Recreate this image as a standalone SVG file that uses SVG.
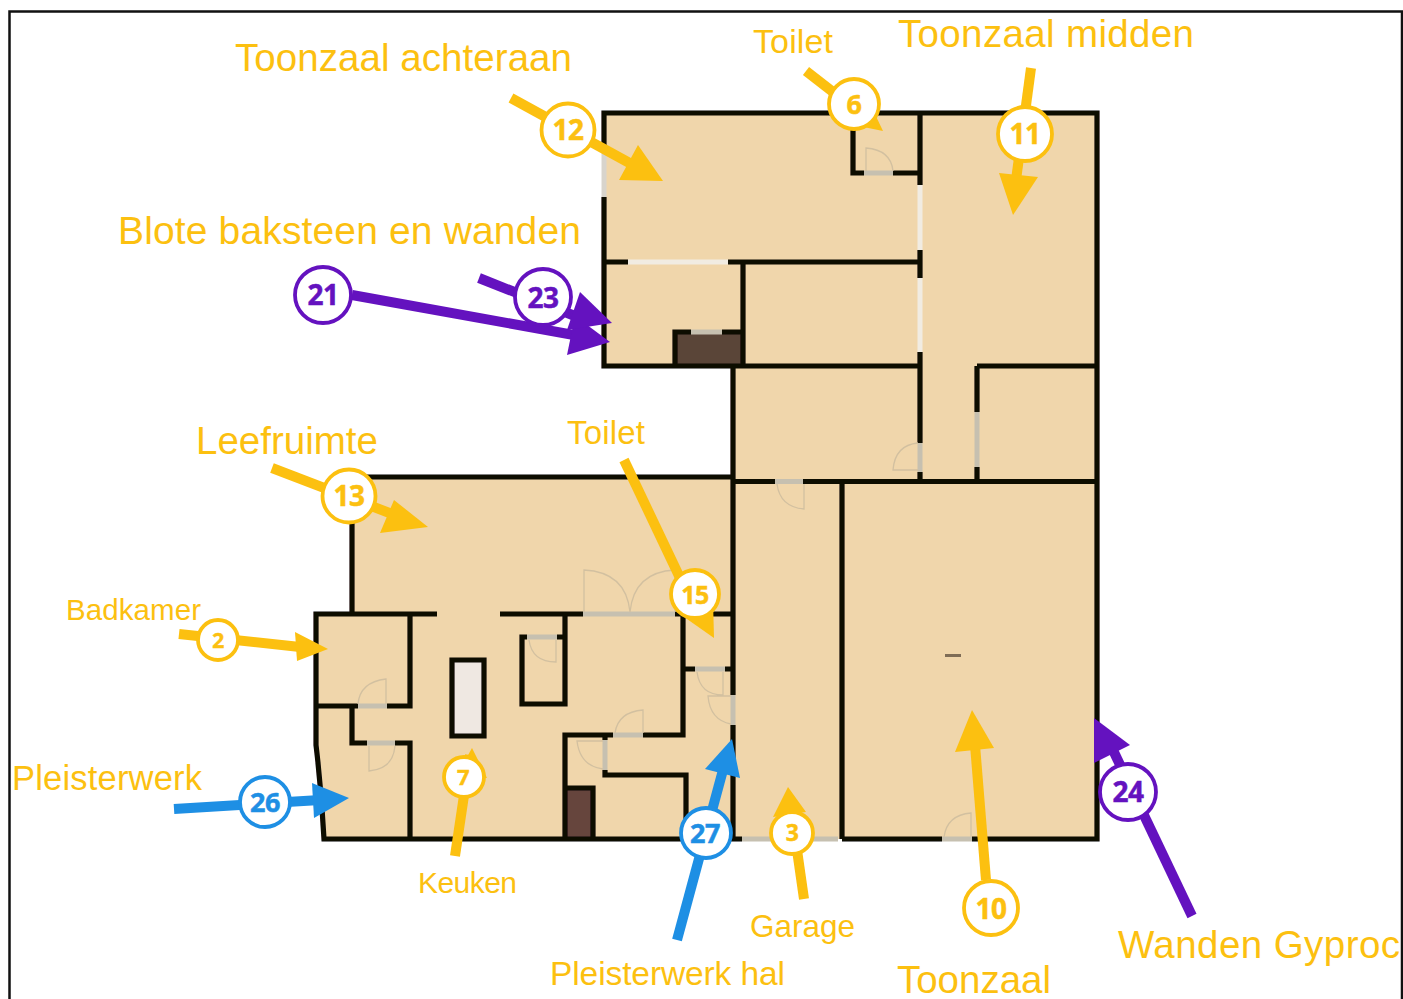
<svg xmlns="http://www.w3.org/2000/svg" width="1403" height="999" viewBox="0 0 1403 999">
<defs><filter id="soft" x="-2%" y="-2%" width="104%" height="104%"><feGaussianBlur stdDeviation="0.45"/></filter></defs>
<style>
.wall{fill:none;stroke:#0c0805;stroke-width:5.200}
.gap{fill:none;stroke:#c6c0b0;stroke-width:5}
.glass{fill:none;stroke:#f1ece2;stroke-width:5}
.arc{fill:none;stroke:#d2c0a0;stroke-width:1.3}
.ly{stroke:#fcc010;stroke-width:10;fill:none}
.lp{stroke:#6412bf;stroke-width:10;fill:none}
.lb{stroke:#1e8fe4;stroke-width:10;fill:none}
.hy{fill:#fcc010}.hp{fill:#6412bf}.hb{fill:#1e8fe4}
.cy,.cp,.cb{fill:#fff;stroke-width:3.800}
.cy{stroke:#fcc010}.cp{stroke:#6412bf}.cb{stroke:#1e8fe4}
.n{font-family:"Open Sans","Liberation Sans",sans-serif;font-weight:700;text-anchor:middle;letter-spacing:-.5px;stroke-width:.5}
.ny{fill:#fcc010;stroke:#fcc010}.np{fill:#6412bf;stroke:#6412bf}.nb{fill:#1e8fe4;stroke:#1e8fe4}
.t{font-family:"Liberation Sans",Arial,sans-serif;fill:#fcc010}
</style>
<rect width="1403" height="999" fill="#fff"/>
<path d="M9.500 1010V11.500H1402V1010" fill="none" stroke="#111" stroke-width="2.500"/>
<g id="floorplan" filter="url(#soft)">
<path d="M604 113H1097V839H324C322 800 319 770 316 745V614H352V477H733V366H604Z" fill="#f0d6ab"/>
<rect x="677" y="334" width="65" height="31" fill="#5a4438"/>
<rect x="567" y="788" width="26" height="50" fill="#66443c"/>
<rect x="452" y="660" width="32" height="76" fill="#efe8e2"/>
<path class="wall" d="M604 153V113H1097V839H972M942 839H842M742 839H324C322 800 319 770 316 745V611.400M604 197V366H920M604 262H628M728 262H920M743 262V366M920 113V185M920 250V278M920 352V443M920 472V481M853 113V173H864M893 173H920M675 366V332H691M722 332H743M733 366V695M733 725V839M733 481.500H775M803 481.500H1097M977 366H1097M977 366V412M977 467V481M842 481V839M313.400 614H437M500 614H583M675 614H733M410 614V706H387M358 706H316M352 706V743H367M395 743H410V839M352 477V614M349.400 477H733M452 660H484V736H452ZM522 637V704H565V614M519.400 637H527M557 637H565M683 614V735H643M613 735H565V839M605 770V775H686V839M605 735V740M567 788H593V838M685 669H695M725 669H733"/>
<path class="gap" d="M864 173H893M691 332H722M775 481.500H803M977 412V467M920 443V472M733 695V725M942 839H972M742 839H838M583 614H675M358 706H387M367 743H395M527 637H557M613 735H643M605 740V770M695 669H725"/>
<path class="glass" d="M628 262H728M920 185V250M920 278V352"/>
<path d="M604 153V197" stroke="#d8d4cc" stroke-width="5" fill="none"/>
<path class="arc" d="M866 171V148Q891 150 893 171M918 443Q895 445 893 470H918M777 484Q780 507 804 509V484M584 612V570Q626 572 630 612Q634 572 675 570V612M358 704Q360 682 386 679V704M369 746V771Q393 769 395 746M529 640Q532 662 556 662V640M615 733Q618 712 643 710V733M603 741H577Q580 766 603 769M697 672Q700 695 723 695V672M731 696H708Q710 720 731 724M944 837Q947 815 971 813V837"/>
<rect x="945" y="654" width="16" height="3" fill="#5a4a3a" opacity=".75"/>
</g>
<g id="connectors">
<path class="ly" d="M511 98L635 166"/><polygon class="hy" points="663,181 638,145 619,180"/>
<path class="ly" d="M806 71L860 113"/><polygon class="hy" points="883,131 864,91 839,122"/>
<path class="ly" d="M1031 68L1016 180"/><polygon class="hy" points="1013,215 999,173 1038,177"/>
<path class="lp" d="M352 295L585 337"/><polygon class="hp" points="610,342 567,355 575,316"/>
<path class="lp" d="M479 278L590 322"/><polygon class="hp" points="612,323 580,292 567,330"/>
<path class="ly" d="M624 460L700 620"/><polygon class="hy" points="714,638 677,612 713,600"/>
<path class="ly" d="M179 634L300 647"/><polygon class="hy" points="328,649 295,632 297,661"/>
<path class="lb" d="M174 809L320 800"/><polygon class="hb" points="349,798 312,783 314,818"/>
<path class="ly" d="M455 856L470 755"/><polygon class="hy" points="472,748 457,775 487,778"/>
<path class="lb" d="M677 940L723 770"/><polygon class="hb" points="732,739 705,769 740,778"/>
<path class="ly" d="M804 899L792 815"/><polygon class="hy" points="788,787 773,817 806,812"/>
<path class="ly" d="M986 880L975 745"/><polygon class="hy" points="972,710 955,752 994,748"/>
<path class="lp" d="M1192 916L1112 748"/><polygon class="hp" points="1094,718 1130,745 1094,763"/>
<path class="ly" d="M272 468L400 517"/><polygon class="hy" points="428,527 394,500 380,533"/>
</g>
<g id="node-12"><text class="t" x="235" y="71" font-size="38.500" textLength="337">Toonzaal achteraan</text><circle class="cy" cx="568" cy="130" r="26.500"/><text class="n ny" x="568" y="140" font-size="28">12</text></g>
<g id="node-6"><text class="t" x="753" y="53" font-size="34" textLength="80">Toilet</text><circle class="cy" cx="854" cy="104" r="25"/><text class="n ny" x="854" y="114" font-size="27">6</text></g>
<g id="node-11"><text class="t" x="898" y="47" font-size="38.500" textLength="296">Toonzaal midden</text><circle class="cy" cx="1025" cy="134" r="27"/><text class="n ny" x="1025" y="144" font-size="28">11</text></g>
<g id="node-21"><text class="t" x="118" y="244" font-size="39" textLength="463">Blote baksteen en wanden</text><circle class="cp" cx="323" cy="295" r="28"/><text class="n np" x="323" y="305" font-size="28">21</text></g>
<g id="node-23"><circle class="cp" cx="543" cy="297" r="28"/><text class="n np" x="543" y="308" font-size="28">23</text></g>
<g id="node-13"><text class="t" x="196" y="454" font-size="38.500" textLength="182">Leefruimte</text><circle class="cy" cx="349" cy="496" r="26.500"/><text class="n ny" x="349" y="506" font-size="28">13</text></g>
<g id="node-15"><text class="t" x="567" y="444" font-size="33" textLength="78">Toilet</text><circle class="cy" cx="695" cy="594" r="24"/><text class="n ny" x="695" y="604" font-size="25">15</text></g>
<g id="node-2"><text class="t" x="66" y="620" font-size="29.500" textLength="135">Badkamer</text><circle class="cy" cx="218" cy="640" r="20"/><text class="n ny" x="218" y="648" font-size="21">2</text></g>
<g id="node-26"><text class="t" x="12" y="790" font-size="34.500" textLength="190">Pleisterwerk</text><circle class="cb" cx="265" cy="802" r="25"/><text class="n nb" x="265" y="812" font-size="27">26</text></g>
<g id="node-7"><text class="t" x="418" y="893" font-size="30" textLength="99">Keuken</text><circle class="cy" cx="464" cy="777" r="20"/><text class="n ny" x="463" y="785" font-size="22">7</text></g>
<g id="node-27"><text class="t" x="550" y="985" font-size="33.500" textLength="235">Pleisterwerk hal</text><circle class="cb" cx="706" cy="833" r="25"/><text class="n nb" x="705" y="843" font-size="27">27</text></g>
<g id="node-3"><text class="t" x="750" y="937" font-size="31.500" textLength="105">Garage</text><circle class="cy" cx="792" cy="833" r="21"/><text class="n ny" x="792" y="841" font-size="23">3</text></g>
<g id="node-10"><text class="t" x="897" y="993" font-size="38.500" textLength="154">Toonzaal</text><circle class="cy" cx="991" cy="908" r="27"/><text class="n ny" x="991" y="919" font-size="28">10</text></g>
<g id="node-24"><text class="t" x="1118" y="958" font-size="38.500" textLength="282">Wanden Gyproc</text><circle class="cp" cx="1128" cy="792" r="28"/><text class="n np" x="1128" y="802" font-size="28">24</text></g>
</svg>
